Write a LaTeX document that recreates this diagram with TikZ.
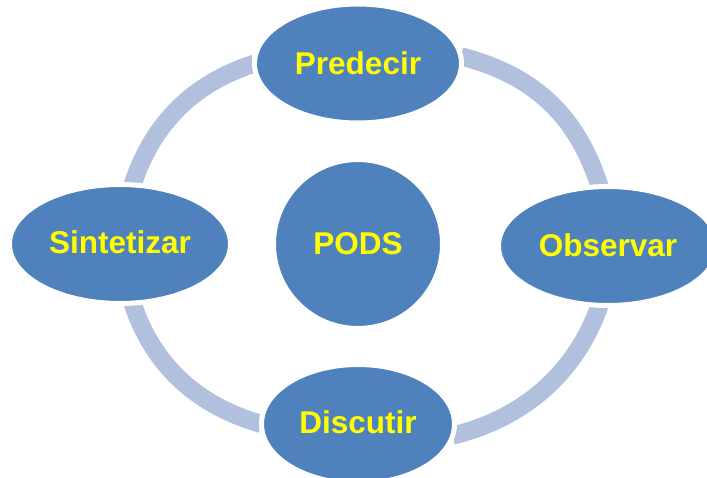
\documentclass[tikz,border=0pt]{standalone}
\usepackage{fontspec}
\setmainfont{Liberation Sans}
\usetikzlibrary{shapes.geometric,backgrounds}
\definecolor{nodeblue}{HTML}{4F81BD}
\definecolor{ringblue}{HTML}{B0C0DD}
\definecolor{labelyellow}{HTML}{FFFF00}
\tikzset{
  blob/.style={ellipse,inner sep=0pt,outer sep=0pt,fill=nodeblue,draw=white,line width=5pt,
    text=labelyellow,font=\fontsize{31.5}{32}\selectfont\bfseries},
  ring/.style={draw=ringblue,line width=18pt,line cap=butt}
}
\begin{document}
\begin{tikzpicture}[x=1pt,y=-1pt]
\useasboundingbox (0,0) rectangle (707,477);
\node[blob,minimum width=207pt,minimum height=119pt] (pred) at (358,63.5) {\raisebox{1pt}{Predecir}};
\node[blob,minimum width=219pt,minimum height=119pt] (obs) at (608,246) {\raisebox{1pt}{Observar}};
\node[blob,minimum width=221pt,minimum height=119pt] (sint) at (120,244) {\raisebox{3pt}{Sintetizar}};
\node[blob,minimum width=193pt,minimum height=119pt] (disc) at (358,424) {\raisebox{3pt}{Discutir}};
\node[blob,minimum width=169pt,minimum height=169pt] (pods) at (358,244) {\raisebox{2pt}{PODS}};
\begin{pgfonlayer}{background}
\draw[ring] (pred.4) .. controls (530,74) and (576,112) .. (obs.98);
\draw[ring] (obs.-98) .. controls (576,372) and (525,418) .. (disc.-7);
\draw[ring] (disc.180) .. controls (205,408) and (155,372) .. (sint.-78);
\draw[ring] (sint.78) .. controls (156,113) and (204,80) .. (pred.180);
\end{pgfonlayer}
\end{tikzpicture}
\end{document}
